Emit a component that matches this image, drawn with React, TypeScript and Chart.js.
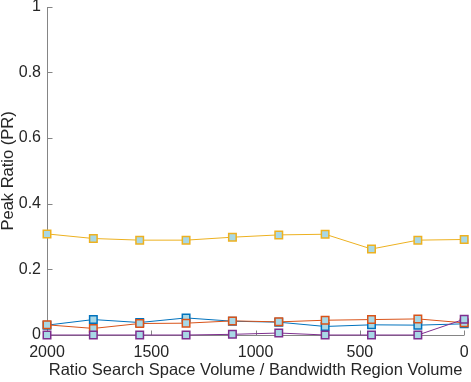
import React, { useEffect, useRef } from "react";
import { Chart, registerables } from "chart.js";

Chart.register(...registerables);

const xValues = [2000, 1777.8, 1555.6, 1333.3, 1111.1, 888.9, 666.7, 444.4, 222.2, 0];
const blueValues = [0.03, 0.047, 0.038, 0.052, 0.042, 0.039, 0.026, 0.031, 0.03, 0.034];
const orangeValues = [0.031, 0.02, 0.035, 0.036, 0.043, 0.04, 0.045, 0.047, 0.049, 0.037];
const yellowValues = [0.308, 0.294, 0.289, 0.289, 0.298, 0.305, 0.307, 0.262, 0.289, 0.291];
const purpleValues = [0, 0, 0, 0, 0.002, 0.006, 0, 0, 0, 0.048];
const xTicks = [2000, 1500, 1000, 500, 0];
const yTicks = [0, 0.2, 0.4, 0.6, 0.8, 1];
const xTitle = "Ratio Search Space Volume / Bandwidth Region Volume";
const yTitle = "Peak Ratio (PR)";

const FONT = "'Liberation Sans', Arial, Helvetica, sans-serif";
const TEXT = "#262626";
const AXIS = "#858585";
const FACE = "#a8d8e6";

const axesPlugin = {
  id: "matlabAxes",
  beforeDatasetsDraw(chart: any) {
    const { ctx, chartArea, scales } = chart;
    const { left, right, top, bottom } = chartArea;
    ctx.save();
    ctx.strokeStyle = AXIS;
    ctx.lineWidth = 1;
    ctx.beginPath();
    const lx = Math.round(left) + 0.5;
    const by = Math.round(bottom) + 0.5;
    ctx.moveTo(lx, Math.round(top));
    ctx.lineTo(lx, by);
    ctx.lineTo(Math.round(right), by);
    for (const t of yTicks) {
      const py = Math.round(scales.y.getPixelForValue(t)) + 0.5;
      ctx.moveTo(lx, py);
      ctx.lineTo(lx + 5, py);
    }
    for (const t of xTicks) {
      const px = Math.round(scales.x.getPixelForValue(t)) + 0.5;
      ctx.moveTo(px, by);
      ctx.lineTo(px, by - 5);
    }
    ctx.stroke();
    ctx.restore();
  },
};

function makeSet(label: string, values: number[], color: string, order: number) {
  return {
    label,
    data: xValues.map((x, i) => ({ x, y: values[i] })),
    borderColor: color,
    backgroundColor: FACE,
    borderWidth: 1,
    pointStyle: "rect",
    pointRadius: 5.3,
    pointBorderWidth: 1.5,
    pointBorderColor: color,
    pointBackgroundColor: FACE,
    tension: 0,
    clip: false,
    order,
  };
}

export default function App() {
  const ref = useRef<HTMLCanvasElement>(null);
  useEffect(() => {
    document.body.style.margin = "0";
    const chart = new Chart(ref.current!, {
      type: "line",
      data: {
        datasets: [
          makeSet("S1", blueValues, "#0072BD", 4),
          makeSet("S2", orangeValues, "#D95319", 3),
          makeSet("S3", yellowValues, "#EDB120", 2),
          makeSet("S4", purpleValues, "#7E2F8E", 1),
        ],
      },
      options: {
        animation: false,
        responsive: false,
        maintainAspectRatio: false,
        layout: { padding: { top: 5, right: 5, left: 0, bottom: 0 } },
        plugins: { legend: { display: false }, tooltip: { enabled: false } },
        scales: {
          x: {
            type: "linear",
            reverse: true,
            min: 0,
            max: 2000,
            grid: { display: false, drawTicks: false },
            border: { display: false },
            afterBuildTicks: (s: any) => {
              s.ticks = xTicks.map((v) => ({ value: v }));
            },
            afterFit: (s: any) => {
              s.height = 47;
              s.paddingLeft = 0;
              s.paddingRight = 0;
            },
            ticks: {
              color: TEXT,
              font: { family: FONT, size: 16 },
              padding: 8,
              maxRotation: 0,
              autoSkip: false,
              callback: (v: any) => String(v),
            },
            title: {
              display: true,
              text: xTitle,
              color: TEXT,
              font: { family: FONT, size: 16.5 },
              padding: { top: 0, bottom: 2 },
            },
          },
          y: {
            type: "linear",
            min: 0,
            max: 1,
            grid: { display: false, drawTicks: false },
            border: { display: false },
            afterBuildTicks: (s: any) => {
              s.ticks = yTicks.map((v) => ({ value: v }));
            },
            afterFit: (s: any) => {
              s.width = 47;
              s.paddingTop = 0;
              s.paddingBottom = 0;
            },
            ticks: {
              color: TEXT,
              font: { family: FONT, size: 16 },
              padding: 6,
              autoSkip: false,
              callback: (v: any) => String(v),
            },
            title: {
              display: true,
              text: yTitle,
              color: TEXT,
              font: { family: FONT, size: 16.5, lineHeight: 1 },
              padding: 0,
            },
          },
        },
      },
      plugins: [axesPlugin],
    });
    return () => chart.destroy();
  }, []);
  return (
    <div style={{ position: "fixed", left: 0, top: 0, width: 471, height: 382, background: "#fff" }}>
      <canvas ref={ref} width={471} height={382} style={{ display: "block" }} />
    </div>
  );
}
